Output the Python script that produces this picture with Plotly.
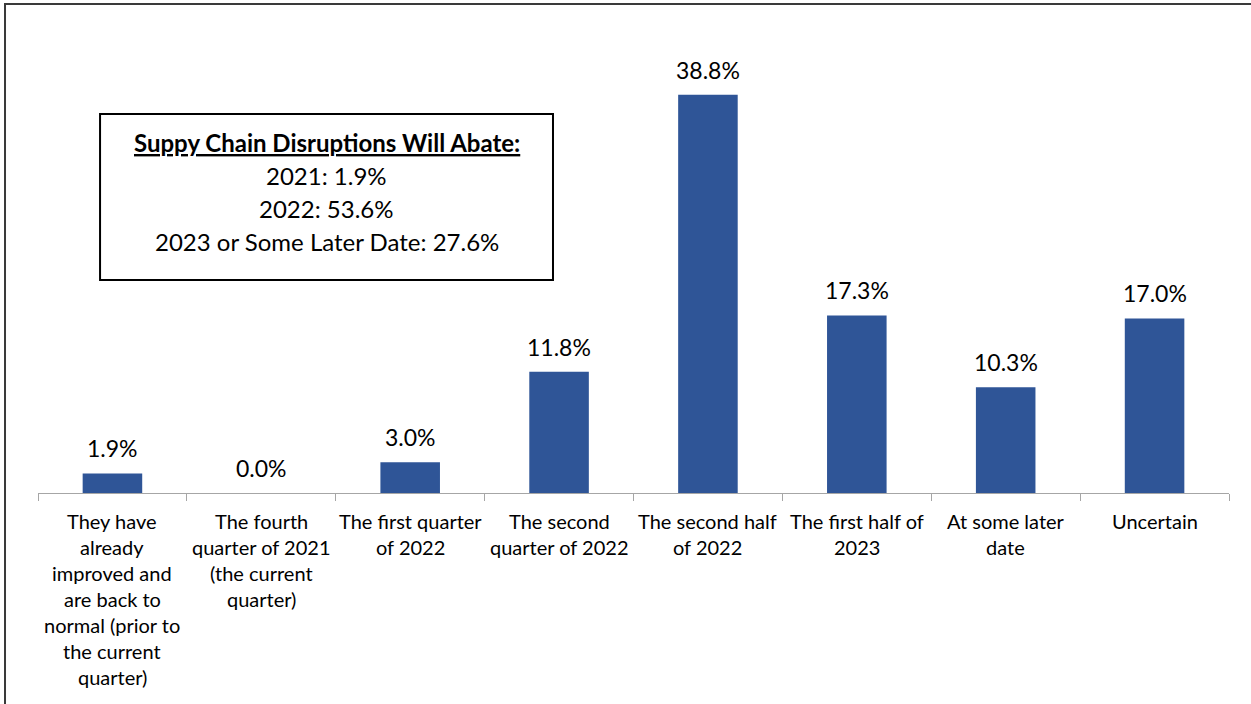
import plotly.graph_objects as go

# Survey responses: when supply chain disruptions are expected to abate
categories = [
    "They have<br>already<br>improved and<br>are back to<br>normal (prior to<br>the current<br>quarter)",
    "The fourth<br>quarter of 2021<br>(the current<br>quarter)",
    "The first quarter<br>of 2022",
    "The second<br>quarter of 2022",
    "The second half<br>of 2022",
    "The first half of<br>2023",
    "At some later<br>date",
    "Uncertain",
]
shares = [1.9, 0.0, 3.0, 11.8, 38.8, 17.3, 10.3, 17.0]

summary_title = "Suppy Chain Disruptions Will Abate:"
summary_lines = ["2021: 1.9%", "2022: 53.6%", "2023 or Some Later Date: 27.6%"]

FONT = "Lato"
BAR_COLOR = "#2F5597"

xs = list(range(len(categories)))
# category boundaries carry the tick marks
boundaries = [i - 0.5 for i in range(len(categories) + 1)]

fig = go.Figure(
    go.Bar(
        x=xs,
        y=shares,
        width=0.4,
        marker=dict(color=BAR_COLOR, line=dict(width=0)),
        hoverinfo="skip",
    )
)

annotations = []

# value labels above each bar
for x, v in zip(xs, shares):
    annotations.append(dict(
        x=x, y=v, xref="x", yref="y", text=f"{v:.1f}%", showarrow=False,
        xanchor="center", yanchor="middle", yshift=25,
        font=dict(family=FONT, size=23, color="#000"),
    ))

# multi-line category labels under the axis
for x, cat in zip(xs, categories):
    for i, line in enumerate(cat.split("<br>")):
        annotations.append(dict(
            x=x, y=0, xref="x", yref="paper", text=line, showarrow=False,
            xanchor="center", yanchor="middle", yshift=-28 - 26 * i,
            font=dict(family=FONT, size=20, color="#000"),
        ))

# summary box text
box_cx = 0.2423
annotations.append(dict(
    x=box_cx, y=0.7576, xref="paper", yref="paper",
    text=f"<b><u>{summary_title}</u></b>", showarrow=False,
    xanchor="center", yanchor="middle",
    font=dict(family=FONT, size=24, color="#000"),
))
for i, line in enumerate(summary_lines):
    annotations.append(dict(
        x=box_cx, y=0.6883 - i * 0.0725, xref="paper", yref="paper",
        text=line, showarrow=False, xanchor="center", yanchor="middle",
        font=dict(family=FONT, size=24, color="#000"),
    ))

shapes = [
    # outer frame
    dict(type="rect", xref="paper", yref="paper",
         x0=-0.0277, x1=1.03, y0=-0.48, y1=1.0584,
         line=dict(color="#3a3a3a", width=2), fillcolor="rgba(0,0,0,0)", layer="below"),
    # summary box
    dict(type="rect", xref="paper", yref="paper",
         x0=0.0521, x1=0.4324, y0=0.461, y1=0.8203,
         line=dict(color="#000", width=2), fillcolor="white", layer="below"),
]

fig.update_layout(
    width=1251, height=704,
    margin=dict(l=38, r=22, t=31, b=211),
    paper_bgcolor="white", plot_bgcolor="rgba(0,0,0,0)",
    showlegend=False,
    annotations=annotations,
    shapes=shapes,
    xaxis=dict(
        range=[-0.5, len(categories) - 0.5],
        tickmode="array", tickvals=boundaries, showticklabels=False,
        ticks="outside", ticklen=7, tickcolor="#a6a6a6", tickwidth=1,
        showline=True, linecolor="#a6a6a6", linewidth=1,
        showgrid=False, zeroline=False, fixedrange=True,
    ),
    yaxis=dict(
        range=[0, 45], visible=False, showgrid=False, zeroline=False, fixedrange=True,
    ),
)

fig.write_html("out.html")
